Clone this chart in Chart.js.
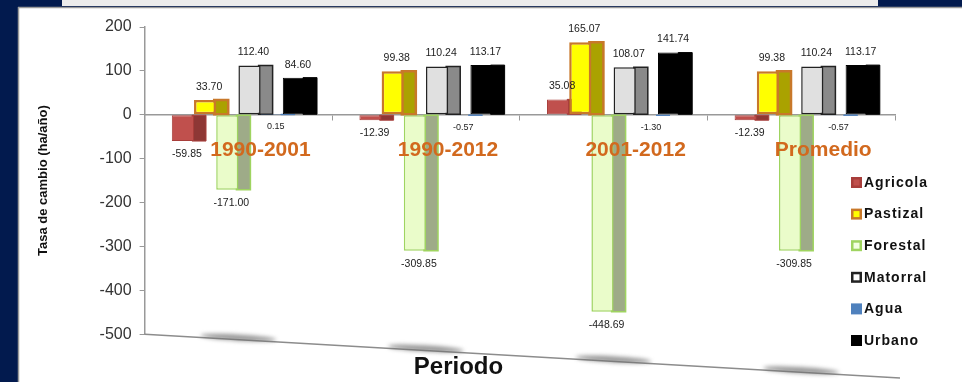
<!DOCTYPE html>
<html>
<head>
<meta charset="utf-8">
<script src="https://cdn.jsdelivr.net/npm/chart.js@4.4.1/dist/chart.umd.min.js"></script>
<style>
  html, body { margin: 0; padding: 0; background: #021a4e; }
  canvas { display: block; }
</style>
</head>
<body>
<canvas id="bar-chart" width="962" height="382"></canvas>
<script>
var periodos = ["1990-2001", "1990-2012", "2001-2012", "Promedio"];
var agricola = [-59.85, -12.39, 35.08, -12.39];
var pastizal = [33.70, 99.38, 165.07, 99.38];
var forestal = [-171.00, -309.85, -448.69, -309.85];
var matorral = [112.40, 110.24, 108.07, 110.24];
var agua = [0.15, -0.57, -1.30, -0.57];
var urbano = [84.60, 113.17, 141.74, 113.17];
var yTicks = [200, 100, 0, -100, -200, -300, -400, -500];

var SIDE = 12;   // ancho de la cara lateral (efecto 3D)
var FONT = "'Liberation Sans', Arial, sans-serif";

// fondo: borde azul y panel blanco
var fondo = {
  id: 'fondo',
  beforeDraw: function(chart) {
    var ctx = chart.ctx;
    ctx.save();
    ctx.fillStyle = '#021a4e';
    ctx.fillRect(0, 0, chart.width, chart.height);
    ctx.fillStyle = '#ececec';
    ctx.fillRect(62, 0, 816, 6);
    ctx.fillStyle = '#ffffff';
    ctx.fillRect(18, 7, chart.width - 18, chart.height - 7);
    ctx.strokeStyle = '#9a9a9a';
    ctx.lineWidth = 1.5;
    ctx.beginPath();
    ctx.moveTo(18.5, 7); ctx.lineTo(18.5, chart.height);
    ctx.moveTo(18, 7.5); ctx.lineTo(chart.width, 7.5);
    ctx.stroke();
    ctx.restore();
  }
};

// piso inclinado, sombras y caras laterales de las barras
var caras = {
  id: 'caras',
  beforeDatasetsDraw: function(chart) {
    var ctx = chart.ctx, a = chart.chartArea, xs = chart.scales.x;
    var slope = 0.058;
    ctx.save();
    ctx.strokeStyle = '#8c8c8c';
    ctx.lineWidth = 1.5;
    ctx.beginPath();
    ctx.moveTo(a.left, a.bottom);
    ctx.lineTo(a.right + 5, a.bottom + slope * (a.right + 5 - a.left));
    ctx.stroke();
    ctx.filter = 'blur(2px)';
    ctx.fillStyle = 'rgba(110,110,110,0.75)';
    periodos.forEach(function(p, i) {
      var cx = xs.getPixelForValue(i);
      var cy = a.bottom + slope * (cx - a.left) - 2;
      ctx.beginPath();
      ctx.ellipse(cx, cy, 38, 3, Math.atan(slope), 0, Math.PI * 2);
      ctx.fill();
    });
    ctx.filter = 'none';
    chart.data.datasets.forEach(function(ds, di) {
      var meta = chart.getDatasetMeta(di);
      meta.data.forEach(function(bar) {
        var right = bar.x + bar.width / 2;
        var top = Math.min(bar.y, bar.base), bottom = Math.max(bar.y, bar.base);
        ctx.fillStyle = ds.sideColor;
        ctx.strokeStyle = ds.borderColor;
        ctx.lineWidth = ds.borderWidth;
        ctx.beginPath();
        ctx.moveTo(right - 2, top);
        ctx.lineTo(right + SIDE, top);
        ctx.lineTo(right + SIDE, bottom);
        ctx.lineTo(right - 2, bottom);
        ctx.closePath();
        ctx.fill();
        ctx.stroke();
      });
    });
    ctx.restore();
  }
};

// valores sobre / bajo las barras
var etiquetas = {
  id: 'etiquetas',
  afterDatasetsDraw: function(chart) {
    var ctx = chart.ctx;
    ctx.save();
    ctx.fillStyle = '#222';
    ctx.textAlign = 'center';
    ctx.textBaseline = 'middle';
    chart.data.datasets.forEach(function(ds, di) {
      var meta = chart.getDatasetMeta(di);
      meta.data.forEach(function(bar, i) {
        var v = ds.data[i];
        var cx = bar.x + SIDE / 3;
        var y;
        if (Math.abs(v) < 2) {
          ctx.font = '9px ' + FONT;
          y = bar.base + 12;
        } else {
          ctx.font = '10.5px ' + FONT;
          y = v > 0 ? bar.y - 13 : bar.y + 13;
        }
        ctx.fillText(v.toFixed(2), cx, y);
      });
    });
    ctx.restore();
  }
};

// leyenda a la derecha
var leyenda = {
  id: 'leyenda',
  afterDraw: function(chart) {
    var ctx = chart.ctx;
    var lx = 851, ly = 182, step = 31.6;
    ctx.save();
    ctx.font = 'bold 14px ' + FONT;
    ctx.letterSpacing = '1px';
    ctx.textBaseline = 'middle';
    ctx.fillStyle = '#111';
    chart.data.datasets.forEach(function(ds, di) {
      var y = ly + di * step;
      ctx.fillStyle = ds.borderColor;
      ctx.fillRect(lx, y - 5, 11, 11);
      ctx.fillStyle = ds.legendInner;
      ctx.fillRect(lx + 2.5, y - 2.5, 6, 6);
      ctx.fillStyle = '#111';
      ctx.fillText(ds.label, lx + 13, y + 1);
    });
    ctx.restore();
  }
};

new Chart(document.getElementById("bar-chart"), {
  type: 'bar',
  data: {
    labels: periodos,
    datasets: [
      { label: "Agricola", data: agricola, backgroundColor: "#c0504d", sideColor: "#8e3735",
        borderColor: "#a83e3b", borderWidth: 1, legendInner: "#c0504d" },
      { label: "Pastizal", data: pastizal, backgroundColor: "#ffff00", sideColor: "#aaa200",
        borderColor: "#c8782a", borderWidth: 2.5, legendInner: "#ffff00" },
      { label: "Forestal", data: forestal, backgroundColor: "#eafcca", sideColor: "#9eab88",
        borderColor: "#9fd460", borderWidth: 1.5, legendInner: "#f2ffe0" },
      { label: "Matorral", data: matorral, backgroundColor: "#e0e0e0", sideColor: "#8a8a8a",
        borderColor: "#222222", borderWidth: 1.5, legendInner: "#ffffff" },
      { label: "Agua", data: agua, backgroundColor: "#4f81bd", sideColor: "#3a6496",
        borderColor: "#4f81bd", borderWidth: 1, legendInner: "#4f81bd" },
      { label: "Urbano", data: urbano, backgroundColor: "#000000", sideColor: "#000000",
        borderColor: "#000000", borderWidth: 1, legendInner: "#000000" }
    ]
  },
  options: {
    responsive: false,
    animation: false,
    devicePixelRatio: 1,
    categoryPercentage: 0.71,
    barPercentage: 1,
    borderSkipped: false,
    layout: { padding: { left: 22, right: 67, top: 27, bottom: 0 } },
    plugins: {
      legend: { display: false },
      tooltip: { enabled: false },
      title: {
        display: true,
        position: 'bottom',
        text: 'Periodo',
        color: '#111',
        font: { family: FONT, size: 24, weight: 'bold' },
        padding: { top: 19, bottom: 0 }
      }
    },
    scales: {
      x: {
        position: { y: 0 },
        grid: { drawOnChartArea: false, drawTicks: true, tickLength: 5, color: '#999', offset: true },
        border: { color: '#999', width: 1.5 },
        ticks: {
          z: 1,
          color: '#d2691e',
          font: { family: FONT, size: 21, weight: 'bold' },
          padding: 18,
          labelOffset: 22
        }
      },
      y: {
        min: Math.min.apply(null, yTicks),
        max: Math.max.apply(null, yTicks),
        ticks: { stepSize: 100, color: '#333', font: { family: FONT, size: 16 }, padding: 8 },
        grid: { drawOnChartArea: false, tickLength: 5, color: '#999' },
        border: { color: '#999', width: 1.5 },
        title: {
          display: true,
          text: 'Tasa de cambio (ha/año)',
          color: '#111',
          font: { family: FONT, size: 13, weight: 'bold' },
          padding: { top: 14, bottom: 40 }
        }
      }
    }
  },
  plugins: [fondo, caras, etiquetas, leyenda]
});
</script>
</body>
</html>
